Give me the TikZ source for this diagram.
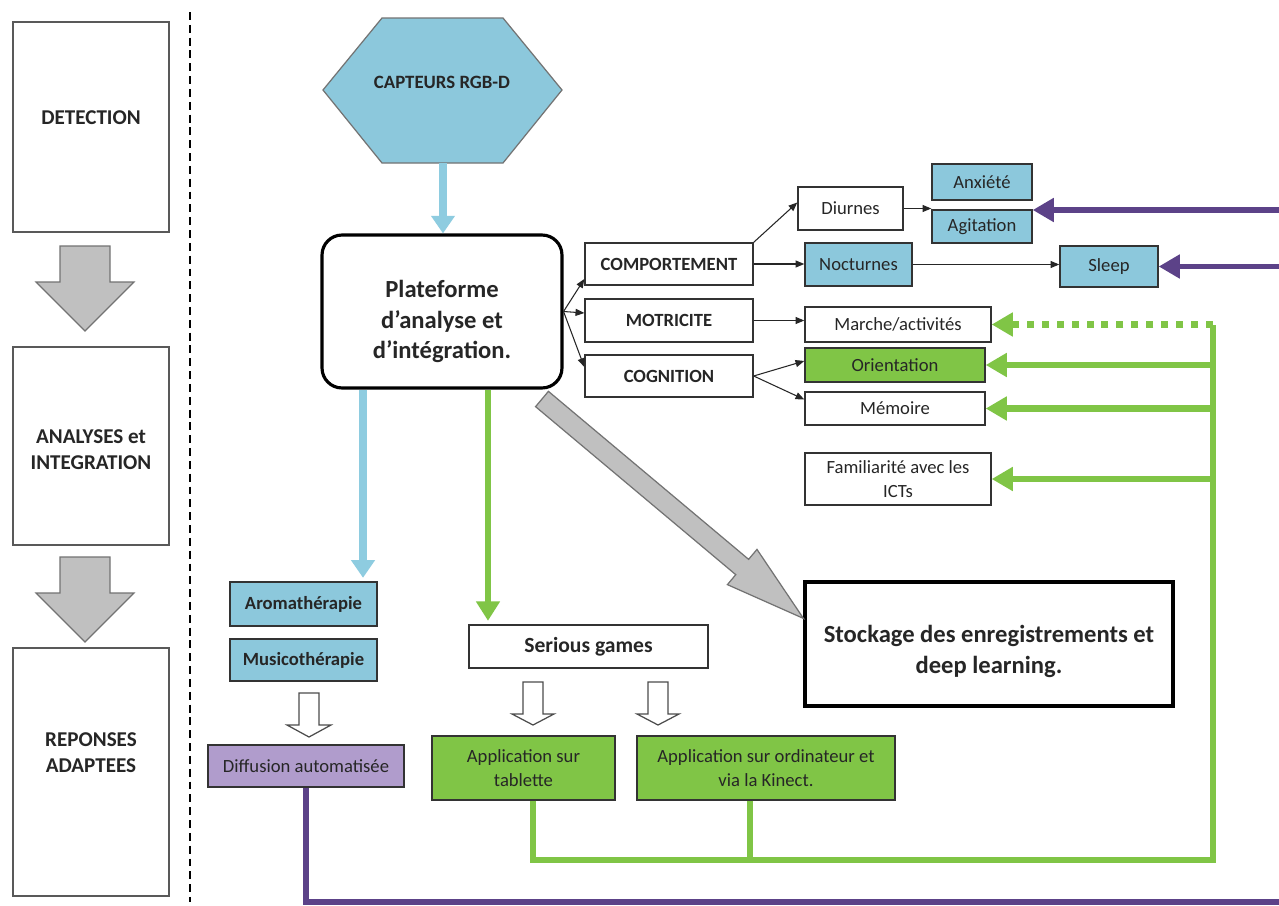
\documentclass[tikz,border=0pt]{standalone}
\usepackage{fontspec}
\setmainfont{Carlito}
\usetikzlibrary{arrows.meta,calc}

\definecolor{capblue}{RGB}{140,200,220}
\definecolor{arrowblue}{RGB}{142,204,224}
\definecolor{leafgreen}{RGB}{128,197,70}
\definecolor{deeppurple}{RGB}{92,66,136}
\definecolor{lavender}{RGB}{176,156,204}
\definecolor{blockgray}{RGB}{192,192,192}

\begin{document}
\begin{tikzpicture}[x=0.02cm, y=-0.02cm,
  every node/.style={font=\fontsize{10.6}{13.6}\selectfont, text=black!85, inner sep=0pt, align=center},
  stage/.style={draw=black!65, line width=0.9pt, minimum width=3.12cm},
  stagetext/.style={font=\bfseries\fontsize{12}{14.7}\selectfont},
  box/.style={draw=black!80, line width=0.8pt},
  catbox/.style={box, font=\bfseries\fontsize{10.6}{13}\selectfont, minimum width=3.36cm},
  bluebox/.style={box, fill=capblue},
  greenbox/.style={box, fill=leafgreen},
  bigbox/.style={draw=black, line width=1.8pt},
  bigtext/.style={font=\bfseries\fontsize{14}{17.5}\selectfont},
  thinarrow/.style={-{Triangle[length=5pt,width=4pt]}, line width=0.6pt, black!85},
  bluearrow/.style={-{Triangle[length=10pt,width=13pt]}, line width=4.4pt, arrowblue},
  greenline/.style={line width=3.6pt, leafgreen},
  greenarrow/.style={greenline, -{Triangle[length=12pt,width=13pt]}},
  purpleline/.style={line width=3.4pt, deeppurple},
  purplearrow/.style={purpleline, -{Triangle[length=12pt,width=13pt]}},
  blockarrow/.style={draw=black!55, line width=0.7pt, fill=blockgray, line join=miter},
  hollowarrow/.style={draw=black!70, line width=0.7pt, fill=white, line join=miter}]

  % Page
  \clip (0,0) rectangle (1279,906);
  \fill[white] (0,0) rectangle (1279,906);

  % Stages column
  \node[stage, minimum height=4.2cm] (det) at (91,127) {};
  \node[stagetext] at ([yshift=0.18cm]det.center) {DETECTION};
  \node[stage, minimum height=3.96cm] (ana) at (91,446) {};
  \node[stagetext] at ([yshift=-0.08cm]ana.center) {ANALYSES et\\INTEGRATION};
  \node[stage, minimum height=4.96cm] (rep) at (91,772) {};
  \node[stagetext] at ([yshift=0.38cm]rep.center) {REPONSES\\ADAPTEES};
  \filldraw[blockarrow] (60,246) -- (110,246) -- (110,282) -- (134,282) -- (85,331) -- (36,282) -- (60,282) -- cycle;
  \filldraw[blockarrow] (60,557) -- (110,557) -- (110,593) -- (134,593) -- (85,642) -- (36,593) -- (60,593) -- cycle;

  % Separator
  \draw[line width=1.5pt, dash pattern=on 4.5pt off 2.8pt] (190,12) -- (190,902);

  % Sensors
  \filldraw[draw=black!55, line width=0.7pt, fill=capblue] (323,90) -- (382,18) -- (503,18) -- (562,90) -- (503,163) -- (382,163) -- cycle;
  \node[font=\bfseries\fontsize{10.7}{13}\selectfont] (capt) at (442,82) {CAPTEURS RGB-D};
  \coordinate (captbot) at (443,163);

  % Platform
  \node[bigbox, rounded corners=0.4cm, minimum width=4.8cm, minimum height=3.06cm] (plat) at (442,311.5) {};
  \node[font=\bfseries\fontsize{14}{17.6}\selectfont] at ([yshift=-0.2cm]plat.center) {Plateforme\\d’analyse et\\d’intégration.};
  \draw[bluearrow] (captbot) -- (captbot |- plat.north);

  % Categories
  \node[catbox, minimum height=0.84cm] (comp) at (669,264) {COMPORTEMENT};
  \node[catbox, minimum height=0.86cm] (mot) at (669,320.5) {MOTRICITE};
  \node[catbox, minimum height=0.84cm] (cog) at (669,376) {COGNITION};
  \draw[thinarrow] (plat.east) -- ([yshift=-0.3cm]comp.west);
  \draw[thinarrow] (plat.east) -- ([yshift=0.15cm]mot.west);
  \draw[thinarrow] (plat.east) -- ([yshift=0.18cm]cog.west);

  % Behaviour
  \node[box, minimum width=2.1cm, minimum height=0.86cm] (diur) at (850.5,208.5) {Diurnes};
  \node[bluebox, minimum width=2cm, minimum height=0.72cm] (anx) at (982,182) {Anxiété};
  \node[bluebox, minimum width=2cm, minimum height=0.66cm] (agi) at (982,226.5) {Agitation};
  \node[bluebox, minimum width=2.14cm, minimum height=0.86cm] (noct) at (858.5,264.5) {Nocturnes};
  \node[bluebox, minimum width=1.96cm, minimum height=0.82cm] (sleep) at (1109,266.5) {Sleep};
  \draw[thinarrow] (comp.north east) -- ([yshift=0.12cm]diur.west);
  \draw[thinarrow] (diur.east) -- (diur.east -| agi.west);
  \draw[thinarrow] (comp.east) -- (comp.east -| noct.west);
  \draw[thinarrow] (noct.east) -- (noct.east -| sleep.west);

  % Motricity and cognition
  \node[box, minimum width=3.72cm, minimum height=0.7cm] (march) at (898,324.5) {Marche/activités};
  \node[greenbox, minimum width=3.6cm, minimum height=0.68cm] (orient) at (895,365) {Orientation};
  \node[box, minimum width=3.6cm, minimum height=0.66cm] (mem) at (895,408.5) {Mémoire};
  \node[box, minimum width=3.72cm, minimum height=1.04cm] (fam) at (898,479) {Familiarité avec les\\ICTs};
  \draw[thinarrow] (mot.east) -- (mot.east -| march.west);
  \draw[thinarrow] (cog.east) -- ([yshift=0.08cm]orient.west);
  \draw[thinarrow] (cog.east) -- ([yshift=0.18cm]mem.west);

  % Responses
  \node[bluebox, font=\bfseries\fontsize{10.6}{13}\selectfont, minimum width=2.94cm, minimum height=0.88cm] (aroma) at (303.5,604) {Aromathérapie};
  \node[bluebox, font=\bfseries\fontsize{10.6}{13}\selectfont, minimum width=2.94cm, minimum height=0.84cm] (music) at (303.5,660) {Musicothérapie};
  \node[box, fill=lavender, minimum width=3.92cm, minimum height=0.84cm] (diff) at (306,766) {Diffusion automatisée};
  \node[box, font=\bfseries\fontsize{12.3}{14}\selectfont, minimum width=4.78cm, minimum height=0.86cm] (serious) at (588.5,646.5) {Serious games};
  \node[greenbox, minimum width=3.66cm, minimum height=1.28cm] (tab) at (523.5,768) {Application sur\\tablette};
  \node[greenbox, minimum width=5.16cm, minimum height=1.28cm] (ordi) at (766,768) {Application sur ordinateur et\\via la Kinect.};
  \draw[bluearrow, shorten >=2pt] ([xshift=-1.58cm]plat.south) -- ([xshift=-1.58cm]plat.south |- aroma.north);
  \draw[greenarrow, -{Triangle[length=11pt,width=13pt]}, shorten >=2pt] ([xshift=0.92cm]plat.south) -- ([xshift=0.92cm]plat.south |- serious.north);
  \filldraw[hollowarrow] (299,693) -- (319,693) -- (319,725) -- (331,725) -- (309,737) -- (287,725) -- (299,725) -- cycle;
  \filldraw[hollowarrow] (523,682) -- (543,682) -- (543,714) -- (554,714) -- (533,725) -- (512,714) -- (523,714) -- cycle;
  \filldraw[hollowarrow] (648,682) -- (668,682) -- (668,714) -- (679,714) -- (658,725) -- (637,714) -- (648,714) -- cycle;

  % Storage
  \node[bigbox, minimum width=7.36cm, minimum height=2.48cm] (stock) at (989,644) {};
  \node[bigtext] at ([yshift=-0.15cm]stock.center) {Stockage des enregistrements et\\deep learning.};
  \coordinate (gstart) at (542,399);
  \coordinate (gtip) at ([yshift=-0.76cm]stock.north west);
  \coordinate (gbase) at ($(gtip)!1.6cm!(gstart)$);
  \filldraw[blockarrow] ($(gstart)!0.2cm!90:(gtip)$) -- ($(gbase)!0.2cm!90:(gtip)$) -- ($(gbase)!0.46cm!90:(gtip)$)
    -- (gtip) -- ($(gbase)!0.46cm!-90:(gtip)$) -- ($(gbase)!0.2cm!-90:(gtip)$) -- ($(gstart)!0.2cm!-90:(gtip)$) -- cycle;

  % Green feedback
  \coordinate (gcorner) at (1213,860);
  \draw[greenline] ([xshift=0.19cm]tab.south) |- (gcorner) -- (gcorner |- march.east);
  \draw[greenline] ([xshift=-0.32cm]ordi.south) -- ([xshift=-0.32cm]ordi.south |- gcorner);
  \draw[greenarrow, dash pattern=on 4pt off 4.5pt] (gcorner |- march.east) -- (march.east);
  \draw[greenarrow] (gcorner |- orient.east) -- (orient.east);
  \draw[greenarrow] (gcorner |- mem.east) -- (mem.east);
  \draw[greenarrow] (gcorner |- fam.east) -- (fam.east);

  % Purple feedback
  \coordinate (pcorner) at (1292,902);
  \coordinate (agitip) at ([yshift=0.33cm]agi.east);
  \draw[purplearrow] (diff.south) |- (pcorner) -- (pcorner |- agitip) -- (agitip);
  \draw[purplearrow] (pcorner |- sleep.east) -- (sleep.east);
\end{tikzpicture}
\end{document}
